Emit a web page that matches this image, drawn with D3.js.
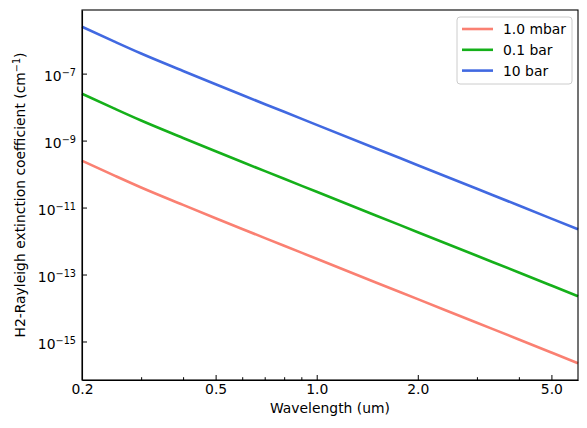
<!DOCTYPE html>
<html>
<head>
<meta charset="utf-8">
<script src="https://cdn.jsdelivr.net/npm/d3@7"></script>
<style>
  body { margin: 0; background: #fff; }
  svg { font-family: "DejaVu Sans", sans-serif; }
  .axis path { stroke: #000; stroke-width: 1.1px; }
  .axis line { stroke: #000; stroke-width: 1px; }
  .axis text { font-size: 13.9px; fill: #000; font-family: "DejaVu Sans", sans-serif; }
</style>
</head>
<body>
<div id="chart"></div>
<script>
// data
var wavelength = [0.2, 0.25, 0.3, 0.4, 0.5, 0.6, 0.8, 1.0, 1.5, 2.0, 3.0, 4.0, 5.0, 6.0];
var ext10bar  = [2.51e-6, 9.0e-7, 3.98e-7, 1.20e-7, 4.79e-8, 2.29e-8, 7.24e-9, 2.95e-9, 5.81e-10, 1.84e-10, 3.63e-11, 1.15e-11, 4.68e-12, 2.24e-12];
var ext01bar  = [2.51e-8, 9.0e-9, 3.98e-9, 1.20e-9, 4.79e-10, 2.29e-10, 7.24e-11, 2.95e-11, 5.81e-12, 1.84e-12, 3.63e-13, 1.15e-13, 4.68e-14, 2.24e-14];
var ext1mbar  = [2.51e-10, 9.0e-11, 3.98e-11, 1.20e-11, 4.79e-12, 2.29e-12, 7.24e-13, 2.95e-13, 5.81e-14, 1.84e-14, 3.63e-15, 1.15e-15, 4.68e-16, 2.24e-16];

var seriesNames  = ["1.0 mbar", "0.1 bar", "10 bar"];
var seriesColors = ["#fa8072", "#15b01a", "#4169e1"];
var seriesValues = [ext1mbar, ext01bar, ext10bar];

var xMajor = [0.2, 0.5, 1.0, 2.0, 5.0];
var xMinor = [0.3, 0.4, 0.6, 0.7, 0.8, 0.9, 3.0, 4.0];
var yMajorExp = [-15, -13, -11, -9, -7];

// chart config
var W = 587, H = 428;
var margin = {top: 10, right: 9, bottom: 48, left: 82};
var width = W - margin.left - margin.right,
    height = H - margin.top - margin.bottom;

var svg = d3.select("#chart").append("svg")
    .attr("width", W).attr("height", H);

var x = d3.scaleLog().domain([0.2, 6.0]).range([0, width]);
var y = d3.scaleLog().domain([Math.pow(10, -16.15), Math.pow(10, -5.1)]).range([height, 0]);

var g = svg.append("g")
    .attr("transform", "translate(" + margin.left + "," + margin.top + ")");

// lines
var line = d3.line()
    .curve(d3.curveMonotoneX)
    .x(function(d) { return x(d[0]); })
    .y(function(d) { return y(d[1]); });

seriesValues.forEach(function(vals, i) {
  var pts = wavelength.map(function(w, j) { return [w, vals[j]]; });
  g.append("path").datum(pts)
    .attr("d", line)
    .style("fill", "none")
    .style("stroke", seriesColors[i])
    .style("stroke-width", "2.6px");
});

// x axis
var xAxis = d3.axisBottom(x).tickValues(xMajor)
    .tickFormat(d3.format(".1f"))
    .tickSizeInner(-5).tickSizeOuter(0).tickPadding(4);
g.append("g").attr("class", "axis")
    .attr("transform", "translate(0," + height + ")")
    .call(xAxis);

g.append("g").attr("class", "axis")
    .attr("transform", "translate(0," + height + ")")
    .call(d3.axisBottom(x).tickValues(xMinor).tickFormat("").tickSizeInner(-2.8).tickSizeOuter(0))
    .select(".domain").remove();

// y axis
var yAxisEl = g.append("g").attr("class", "axis")
    .call(d3.axisLeft(y).tickValues(yMajorExp.map(function(e) { return Math.pow(10, e); }))
      .tickFormat("").tickSizeInner(-5).tickSizeOuter(0).tickPadding(6));

yAxisEl.selectAll(".tick text").each(function(d) {
  var t = d3.select(this);
  var e = Math.round(Math.log10(d));
  t.attr("dy", null).attr("y", 7);
  t.append("tspan").text("10");
  t.append("tspan").attr("dy", -5).style("font-size", "9.7px").text("\u2212" + Math.abs(e));
});

// frame (top/right spines)
g.append("rect")
    .attr("width", width).attr("height", height)
    .style("fill", "none").style("stroke", "#000").style("stroke-width", "1.1px");

// axis labels
svg.append("text")
    .attr("x", margin.left + width / 2).attr("y", 413)
    .attr("text-anchor", "middle")
    .style("font-size", "13.9px")
    .text("Wavelength (um)");

var yl = svg.append("text")
    .attr("transform", "translate(25," + (margin.top + height / 2) + ") rotate(-90)")
    .attr("text-anchor", "middle")
    .style("font-size", "13.9px");
yl.append("tspan").text("H2-Rayleigh extinction coefficient (cm");
yl.append("tspan").attr("dy", -5).style("font-size", "9.7px").text("\u22121");
yl.append("tspan").attr("dy", 5).text(")");

// legend
var leg = svg.append("g").attr("transform", "translate(457,17)");
leg.append("rect")
    .attr("width", 115).attr("height", 67).attr("rx", 3)
    .style("fill", "#fff").style("fill-opacity", 0.8)
    .style("stroke", "#cccccc").style("stroke-width", "1px");

seriesNames.forEach(function(name, i) {
  var yy = 12 + i * 20.8;
  leg.append("line")
    .attr("x1", 5).attr("x2", 36).attr("y1", yy).attr("y2", yy)
    .style("stroke", seriesColors[i]).style("stroke-width", "2.6px");
  leg.append("text")
    .attr("x", 46).attr("y", yy + 5)
    .style("font-size", "13.9px")
    .text(name);
});
</script>
</body>
</html>
